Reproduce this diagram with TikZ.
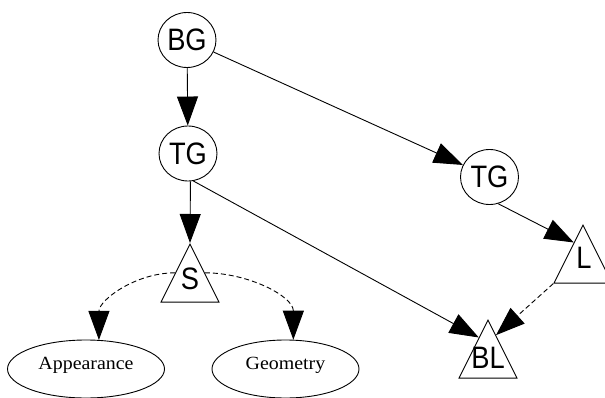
\documentclass[tikz,border=0pt]{standalone}
\usepackage{fontspec}
\setmainfont{Liberation Serif}
\newfontfamily\labfont[FakeStretch=0.88]{Liberation Sans}
\newfontfamily\ellfont[FakeStretch=1.07]{Liberation Serif}
\usetikzlibrary{shapes.geometric,arrows.meta,calc}
\begin{document}
\begin{tikzpicture}[x=1pt,y=-1pt,
  every node/.style={inner sep=0pt},
  circ/.style={draw,ellipse,minimum width=58pt,minimum height=55pt,font=\labfont\fontsize{31}{31}\selectfont},
  tri/.style={draw,isosceles triangle,isosceles triangle stretches,shape border rotate=90,minimum width=58pt,minimum height=58pt,anchor=apex},
  tlab/.style={font=\labfont\fontsize{31}{31}\selectfont},
  oval/.style={draw,ellipse,minimum height=58pt,text height=12.5pt,text depth=12.5pt,font=\ellfont\fontsize{18.6}{18.6}\selectfont},
  arr/.style={-{Triangle[length=29pt,width=21pt]}},
  dsh/.style={dash pattern=on 5pt off 3pt},
  line width=0.9pt]
\useasboundingbox (0,0) rectangle (605,398);
\node[circ] (BG) at (187,40) {BG};
\node[circ] (TG1) at (188,153.5) {TG};
\node[circ] (TG2) at (489.5,177) {TG};
\node[tri] (S) at (190,243) {};
\node[tri] (L) at (583,224) {};
\node[tri] (BL) at (488,319) {};
\node[tlab] (Stext) at (190,279) {S};
\node[tlab] (Ltext) at (584,258) {L};
\node[tlab] (BLtext) at (488,358) {BL};
\node[oval,minimum width=157pt] (App) at (86,369) {Appearance};
\node[oval,minimum width=147pt] (Geo) at (285.5,369) {Geometry};
\draw[arr] (BG) -- (TG1);
\draw[arr] (BG) -- (TG2);
\draw[arr] (TG1.-85) -- (S.apex);
\draw[arr] (TG1.-79) -- ($(BL.apex)!0.31!(BL.left corner)$);
\draw[arr] (TG2.-72) -- ($(L.apex)!0.31!(L.left corner)$);
\draw[arr,dsh] (L.left corner) -- ($(BL.apex)!0.27!(BL.right corner)$);
\draw[arr,dsh] (S.left side) to[out=180,in=90] (App.66);
\draw[arr,dsh] (S.right side) to[out=0,in=90] (Geo.75);
\end{tikzpicture}
\end{document}
